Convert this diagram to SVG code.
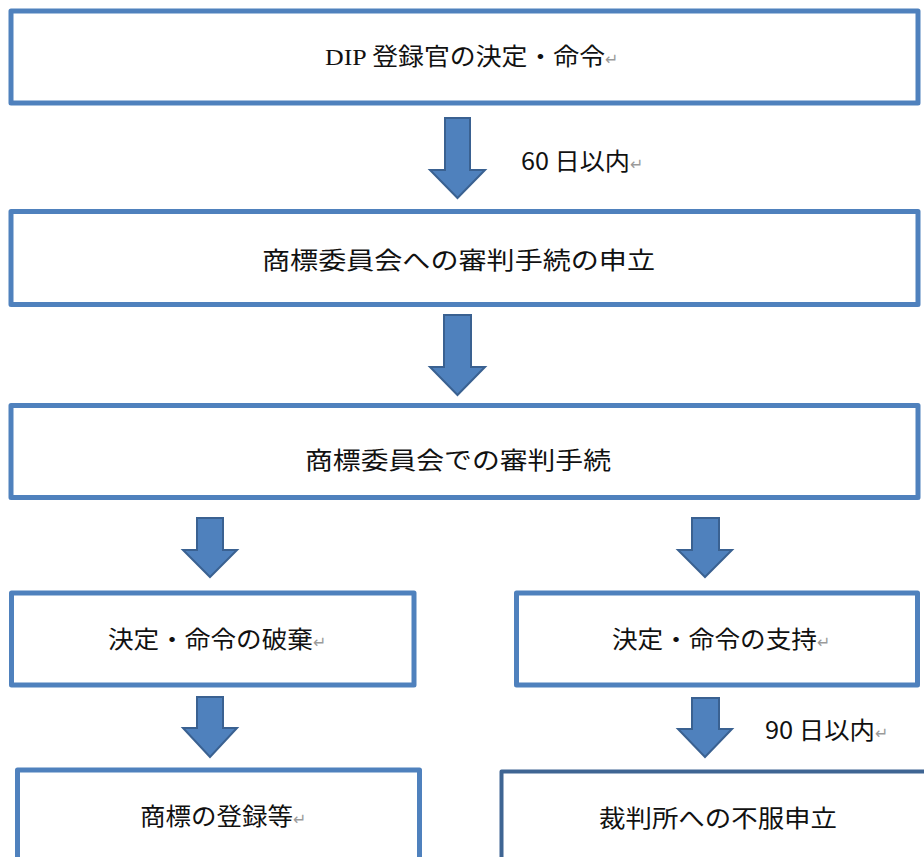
<svg xmlns="http://www.w3.org/2000/svg" width="924" height="857" viewBox="0 0 924 857">
<style>
.box{fill:#fff;stroke:#4F81BD;stroke-width:5;stroke-linejoin:round}
.box2{fill:#fff;stroke:#3F6593;stroke-width:4;stroke-linejoin:round}
.arr{fill:#4F81BD;stroke:#3A6191;stroke-width:2;stroke-linejoin:miter}
.t{font-family:"Noto Sans CJK JP","Liberation Sans",sans-serif;font-size:24px;fill:#111}
.s{font-family:"Liberation Serif","Noto Sans CJK JP",serif;font-size:24px;fill:#111}
.r{font-family:"DejaVu Sans",sans-serif;font-size:16px;fill:#9a9a9a}
</style>
<rect width="924" height="857" fill="#fff"/>
<g id="connectors">
<path class="arr" d="M445,118 H470 V170 H485 L457.5,198 L430,170 H445 Z"/>
<path class="arr" d="M444,315 H471 V367 H485 L457.5,395 L430,367 H444 Z"/>
<path class="arr" d="M197,518 H223 V550 H237 L210,577 L183,550 H197 Z"/>
<path class="arr" d="M692,518 H719 V550 H732 L705,577 L678,550 H692 Z"/>
<path class="arr" d="M197,697 H223 V728 H237 L210,757 L183,728 H197 Z"/>
<path class="arr" d="M692,698 H719 V729 H732 L705,757 L678,729 H692 Z"/>
<text class="t" x="521" y="170" textLength="109" lengthAdjust="spacingAndGlyphs">60 日以内</text>
<text class="r" x="630" y="170">↵</text>
<text class="t" x="765" y="739" textLength="110" lengthAdjust="spacingAndGlyphs">90 日以内</text>
<text class="r" x="875" y="739">↵</text>
</g>
<g id="n1">
<rect class="box" x="11" y="11" width="907" height="92"/>
<text class="s" x="325" y="65" textLength="280" lengthAdjust="spacingAndGlyphs">DIP 登録官の決定・命令</text>
<text class="r" x="605" y="65">↵</text>
</g>
<g id="n2">
<rect class="box" x="11" y="211.5" width="907" height="93"/>
<text class="t" x="262" y="269" textLength="393" lengthAdjust="spacingAndGlyphs">商標委員会への審判手続の申立</text>
</g>
<g id="n3">
<rect class="box" x="11" y="405.5" width="907" height="92"/>
<text class="t" x="305" y="469" textLength="306" lengthAdjust="spacingAndGlyphs">商標委員会での審判手続</text>
</g>
<g id="n4">
<rect class="box" x="11.5" y="593" width="402.5" height="92"/>
<text class="t" x="108" y="648" textLength="205" lengthAdjust="spacingAndGlyphs">決定・命令の破棄</text>
<text class="r" x="313" y="648">↵</text>
</g>
<g id="n5">
<rect class="box" x="516.5" y="593" width="401" height="92"/>
<text class="t" x="612" y="648" textLength="205" lengthAdjust="spacingAndGlyphs">決定・命令の支持</text>
<text class="r" x="817" y="648">↵</text>
</g>
<g id="n6">
<rect class="box" x="17.5" y="770" width="402" height="120"/>
<text class="t" x="140" y="825" textLength="153" lengthAdjust="spacingAndGlyphs">商標の登録等</text>
<text class="r" x="293" y="825">↵</text>
</g>
<g id="n7">
<rect class="box2" x="501.5" y="771.5" width="460" height="120"/>
<text class="t" x="599" y="827" textLength="238" lengthAdjust="spacingAndGlyphs">裁判所への不服申立</text>
</g>
</svg>
